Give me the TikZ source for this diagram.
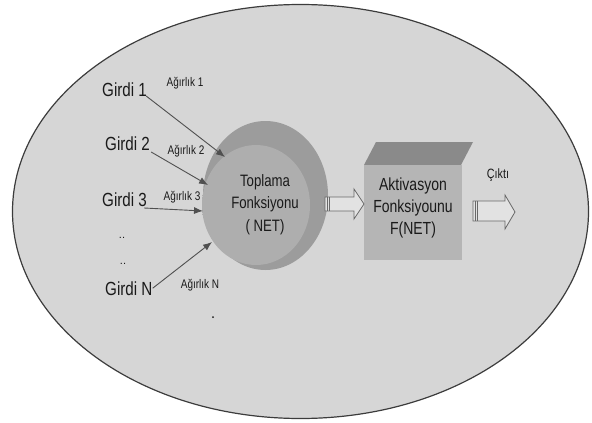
\documentclass[tikz,border=0pt]{standalone}
\usepackage{fontspec}
\setmainfont{Liberation Sans}
\usetikzlibrary{arrows.meta}

% horizontally condensed lettering
\newcommand\cond[1]{\scalebox{0.8}[1]{#1}}

\definecolor{ink}{RGB}{26,26,26}
\definecolor{rim}{RGB}{60,60,60}
\definecolor{bgfill}{RGB}{214,214,214}
\definecolor{ringdark}{RGB}{156,156,156}
\definecolor{ringlight}{RGB}{174,174,174}
\definecolor{boxfront}{RGB}{181,181,181}
\definecolor{boxtop}{RGB}{138,138,138}
\definecolor{wire}{RGB}{80,80,80}
\definecolor{hollowfill}{RGB}{226,226,226}
\definecolor{hollowline}{RGB}{105,105,105}

% light core of the summation unit, fading into its darker rim
\pgfdeclareradialshading{corefade}{\pgfpoint{0bp}{0bp}}{%
  color(0bp)=(ringlight); color(28bp)=(ringlight); color(50bp)=(ringdark)}

\begin{document}
\begin{tikzpicture}[x=1pt,y=-1pt,
  girdi/.style={anchor=base west, inner sep=0pt, text=ink,
    font=\fontsize{19}{22}\selectfont},
  agirlik/.style={anchor=base, inner sep=0pt, text=ink,
    font=\fontsize{12.5}{14}\selectfont},
  blocktext/.style={anchor=center, inner sep=0pt, align=center, text=ink},
  inwire/.style={draw=wire, line width=0.9pt, -{Latex[length=9pt,width=7pt]}},
  hollow/.style={draw=hollowline, line width=0.8pt, fill=hollowfill, line join=miter},
  stripe/.style={draw=hollowline, line width=0.6pt}]

\useasboundingbox (0,0) rectangle (592,423);

% outer neuron body
\draw[draw=rim, line width=1.2pt, fill=bgfill] (300.5,211.5) ellipse [x radius=288, y radius=207];

% summation unit: dark ring with lighter core
\fill[ringdark] (265.5,195.5) ellipse [x radius=62.5, y radius=74.5];
\shade[shading=corefade] (256,205) ellipse [x radius=54, y radius=60];
\node[blocktext, font=\fontsize{16.5}{22.5}\selectfont] (sum) at (265,204.5)
  {\cond{Toplama}\\\cond{Fonksiyonu}\\\cond{( NET)}};

% activation unit: box with slanted top face
\fill[boxtop] (364,165) -- (376,142) -- (473,142) -- (461,165) -- cycle;
\fill[boxfront] (364,165) rectangle (462,260);
\node[blocktext, font=\fontsize{17.5}{22}\selectfont] (act) at (413,208)
  {\cond{Aktivasyon}\\\cond{Fonksiyounu}\\\cond{F(NET)}};

% inputs and weights
\node[girdi] (g1) at (102,96) {\cond{Girdi 1}};
\node[girdi] (g2) at (105,150) {\cond{Girdi 2}};
\node[girdi] (g3) at (102,206) {\cond{Girdi 3}};
\node[girdi] (gN) at (105,295) {\cond{Girdi N}};

\node[agirlik] (w1) at (185,86) {\cond{Ağırlık 1}};
\node[agirlik] (w2) at (186,154) {\cond{Ağırlık 2}};
\node[agirlik] (w3) at (182,200) {\cond{Ağırlık 3}};
\node[agirlik] (wN) at (200,288) {\cond{Ağırlık N}};

\node[agirlik, font=\fontsize{11}{12}\selectfont] (d1) at (122,238) {..};
\node[agirlik, font=\fontsize{11}{12}\selectfont] (d2) at (123,264) {..};
\fill[ink] (213,317) circle (1pt);

% arrow tips on the summation unit
\coordinate (t1) at (225,157);
\coordinate (t2) at (208,185);
\coordinate (t3) at (203,211);
\coordinate (tN) at (212,242);

\draw[inwire] ([xshift=-1pt]g1.base east) -- (t1);
\draw[inwire] ([xshift=1pt,yshift=-2pt]g2.base east) -- (t2);
\draw[inwire] ([xshift=-3pt,yshift=-2pt]g3.base east) -- (t3);
\draw[inwire] (gN.east) -- (tN);

% block arrows: sum -> activation, activation -> output
\coordinate (a1) at (325,204);
\draw[hollow] (a1) ++(0,-7) -- ++(29,0) -- ++(0,-8) -- ++(10,15)
  -- ++(-10,15) -- ++(0,-8) -- ++(-29,0) -- cycle;
\draw[stripe] (a1) ++(2.5,-7) -- ++(0,14);
\draw[stripe] (a1) ++(4.5,-7) -- ++(0,14);

\coordinate (a2) at (473,211);
\draw[hollow] (a2) ++(0,-10) -- ++(32,0) -- ++(0,-6) -- ++(10,17)
  -- ++(-10,17) -- ++(0,-8) -- ++(-32,0) -- cycle;
\draw[stripe] (a2) ++(2.5,-10) -- ++(0,20);
\draw[stripe] (a2) ++(4.5,-10) -- ++(0,20);

\node[agirlik, font=\fontsize{13.5}{15}\selectfont] (out) at (498,178) {\cond{Çıktı}};

\end{tikzpicture}
\end{document}
